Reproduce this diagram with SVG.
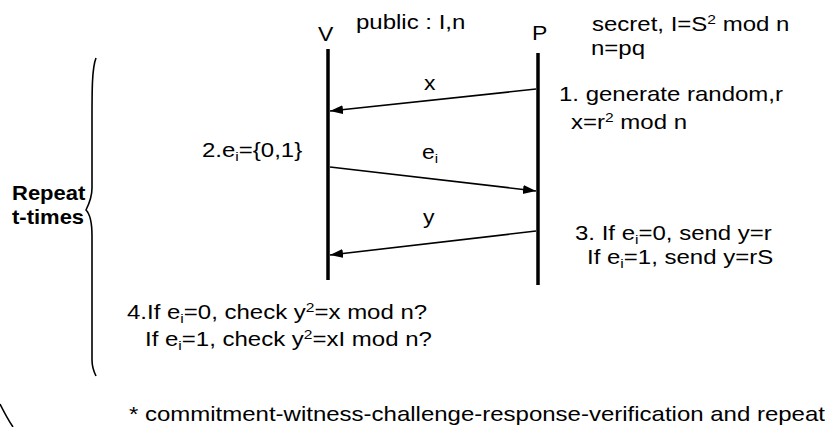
<svg xmlns="http://www.w3.org/2000/svg" width="834" height="427" viewBox="0 0 834 427">
<style>
text{font-family:"Liberation Sans",Arial,sans-serif;font-size:20px;fill:#000}
.b{font-weight:bold}
.s{font-size:13px}
.life{stroke:#000;stroke-width:3.5;fill:none}
.msg{stroke:#000;stroke-width:1.7;fill:none;marker-end:url(#ah)}
.br{stroke:#000;stroke-width:1.6;fill:none}
</style>
<defs>
<marker id="ah" markerUnits="userSpaceOnUse" markerWidth="14" markerHeight="10" refX="13" refY="4.5" orient="auto">
<path d="M0,0 L13,4.5 L0,9 z" fill="#000"/>
</marker>
</defs>
<g id="V">
<text transform="matrix(1.15 0 0 1 318 41)">V</text>
<line class="life" x1="328" y1="49" x2="328" y2="280"/>
</g>
<g id="P">
<text transform="matrix(1.15 0 0 1 532 40)">P</text>
<line class="life" x1="538" y1="53" x2="538" y2="285"/>
</g>
<g id="public">
<text transform="matrix(1.2 0 0 1 356 29)">public : I,n</text>
</g>
<g id="secret">
<text transform="matrix(1.2 0 0 1 592 31)">secret, I=S<tspan class="s" dy="-7">2</tspan><tspan dy="7"> mod n</tspan></text>
<text transform="matrix(1.2 0 0 1 591 55)">n=pq</text>
</g>
<g id="step1">
<text transform="matrix(1.2 0 0 1 559 101)">1. generate random,r</text>
<text transform="matrix(1.2 0 0 1 571 129)">x=r<tspan class="s" dy="-7">2</tspan><tspan dy="7"> mod n</tspan></text>
</g>
<g id="step2">
<text transform="matrix(1.2 0 0 1 202 157)">2.e<tspan class="s" dy="4">i</tspan><tspan dy="-4">={0,1}</tspan></text>
</g>
<g id="step3">
<text transform="matrix(1.2 0 0 1 575 240)">3. If e<tspan class="s" dy="4">i</tspan><tspan dy="-4">=0, send y=r</tspan></text>
<text transform="matrix(1.2 0 0 1 587 264)">If e<tspan class="s" dy="4">i</tspan><tspan dy="-4">=1, send y=rS</tspan></text>
</g>
<g id="step4">
<text transform="matrix(1.2 0 0 1 127 319)">4.If e<tspan class="s" dy="4">i</tspan><tspan dy="-4">=0, check y</tspan><tspan class="s" dy="-7">2</tspan><tspan dy="7">=x mod n?</tspan></text>
<text transform="matrix(1.2 0 0 1 145 346)">If e<tspan class="s" dy="4">i</tspan><tspan dy="-4">=1, check y</tspan><tspan class="s" dy="-7">2</tspan><tspan dy="7">=xI mod n?</tspan></text>
</g>
<g id="repeat">
<text class="b" transform="matrix(1.1 0 0 1 12 200)">Repeat</text>
<text class="b" transform="matrix(1.1 0 0 1 12 224)">t-times</text>
<path class="br" d="M96,58 C92,68 92,90 92,120 L92,188 C92,198 89,204 86,210 C90,214 92,222 92,236 L92,360 C92,368 94,372 96,376"/>
</g>
<g id="note">
<text transform="matrix(1.2 0 0 1 129 421)">* commitment-witness-challenge-response-verification and repeat</text>
<path class="br" d="M0,404 Q7,418 13,427"/>
</g>
<g id="connectors">
<line class="msg" x1="536" y1="89" x2="330" y2="111"/>
<text transform="matrix(1.15 0 0 1 424 90)">x</text>
<line class="msg" x1="330" y1="167" x2="536" y2="191"/>
<text transform="matrix(1.15 0 0 1 422 159)">e<tspan class="s" dy="4">i</tspan></text>
<line class="msg" x1="536" y1="231" x2="330" y2="255"/>
<text transform="matrix(1.15 0 0 1 423 224)">y</text>
</g>
</svg>
